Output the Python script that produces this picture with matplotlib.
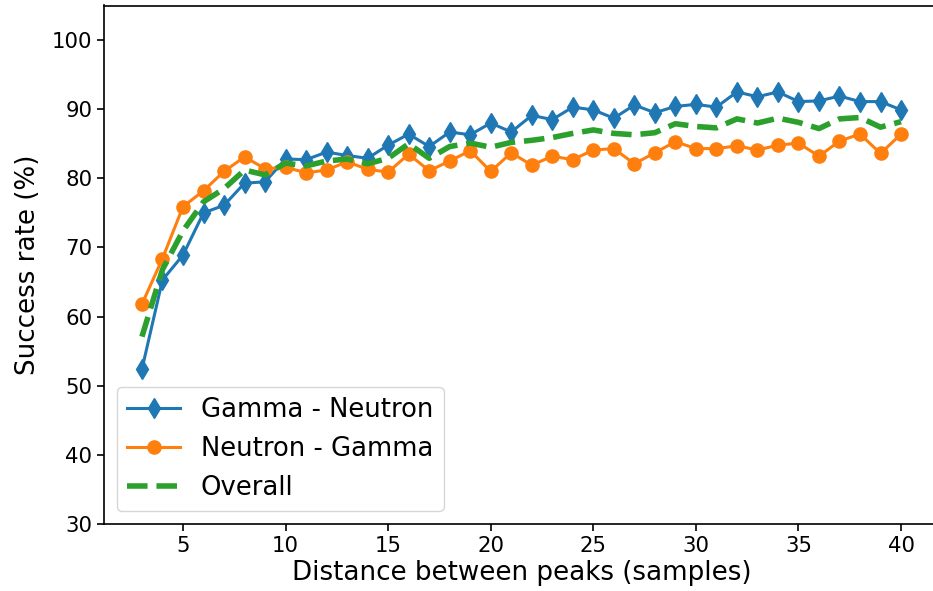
import matplotlib
matplotlib.use("Agg")
import matplotlib.pyplot as plt

distance = list(range(3, 41))
gamma_neutron = [52.4, 65.3, 68.9, 75.0, 76.1, 79.3, 79.5, 82.8, 82.7, 83.8,
                 83.3, 82.9, 84.8, 86.4, 84.6, 86.7, 86.3, 88.0, 86.7, 89.1,
                 88.5, 90.3, 89.9, 88.7, 90.6, 89.5, 90.4, 90.7, 90.3, 92.5,
                 91.8, 92.5, 91.1, 91.2, 91.9, 91.1, 91.1, 89.9]
neutron_gamma = [61.8, 68.4, 75.9, 78.2, 81.0, 83.1, 81.4, 81.6, 80.8, 81.2,
                 82.4, 81.3, 80.9, 83.5, 81.1, 82.5, 84.0, 81.0, 83.7, 81.9,
                 83.2, 82.7, 84.1, 84.3, 82.1, 83.7, 85.3, 84.3, 84.3, 84.7,
                 84.1, 84.8, 85.1, 83.2, 85.4, 86.4, 83.6, 86.4]
overall = [57.1, 66.8, 72.4, 76.6, 78.5, 81.2, 80.5, 82.2, 81.8, 82.5,
           82.8, 82.1, 82.9, 85.0, 82.9, 84.6, 85.1, 84.5, 85.2, 85.5,
           85.9, 86.5, 87.0, 86.5, 86.3, 86.6, 87.9, 87.5, 87.3, 88.6,
           88.0, 88.7, 88.1, 87.2, 88.6, 88.8, 87.4, 88.2]

fig = plt.figure(figsize=(9.33, 5.91), dpi=100)
ax = fig.add_axes([104 / 933, 67 / 591, 835 / 933, 518.5 / 591])

ax.plot(distance, gamma_neutron, color="#1f77b4", marker="d", markersize=10,
        linewidth=2.2, label="Gamma - Neutron")
ax.plot(distance, neutron_gamma, color="#ff7f0e", marker="o", markersize=9.5,
        linewidth=2.2, label="Neutron - Gamma")
ax.plot(distance, overall, color="#2ca02c", linestyle="--", linewidth=4,
        label="Overall")

ax.set_xlim(1.15, 41.85)
ax.set_ylim(30, 105)
ax.set_xticks([5, 10, 15, 20, 25, 30, 35, 40])
ax.set_yticks([30, 40, 50, 60, 70, 80, 90, 100])
ax.tick_params(labelsize=15.3, width=1.2, length=5)
for s in ax.spines.values():
    s.set_linewidth(1.2)
ax.set_xlabel("Distance between peaks (samples)", fontsize=18.8, labelpad=3)
ax.set_ylabel("Success rate (%)", fontsize=18.8, labelpad=8)
ax.legend(loc="lower left", fontsize=18.6, handlelength=2.05)

fig.savefig("out.png", dpi=100)
